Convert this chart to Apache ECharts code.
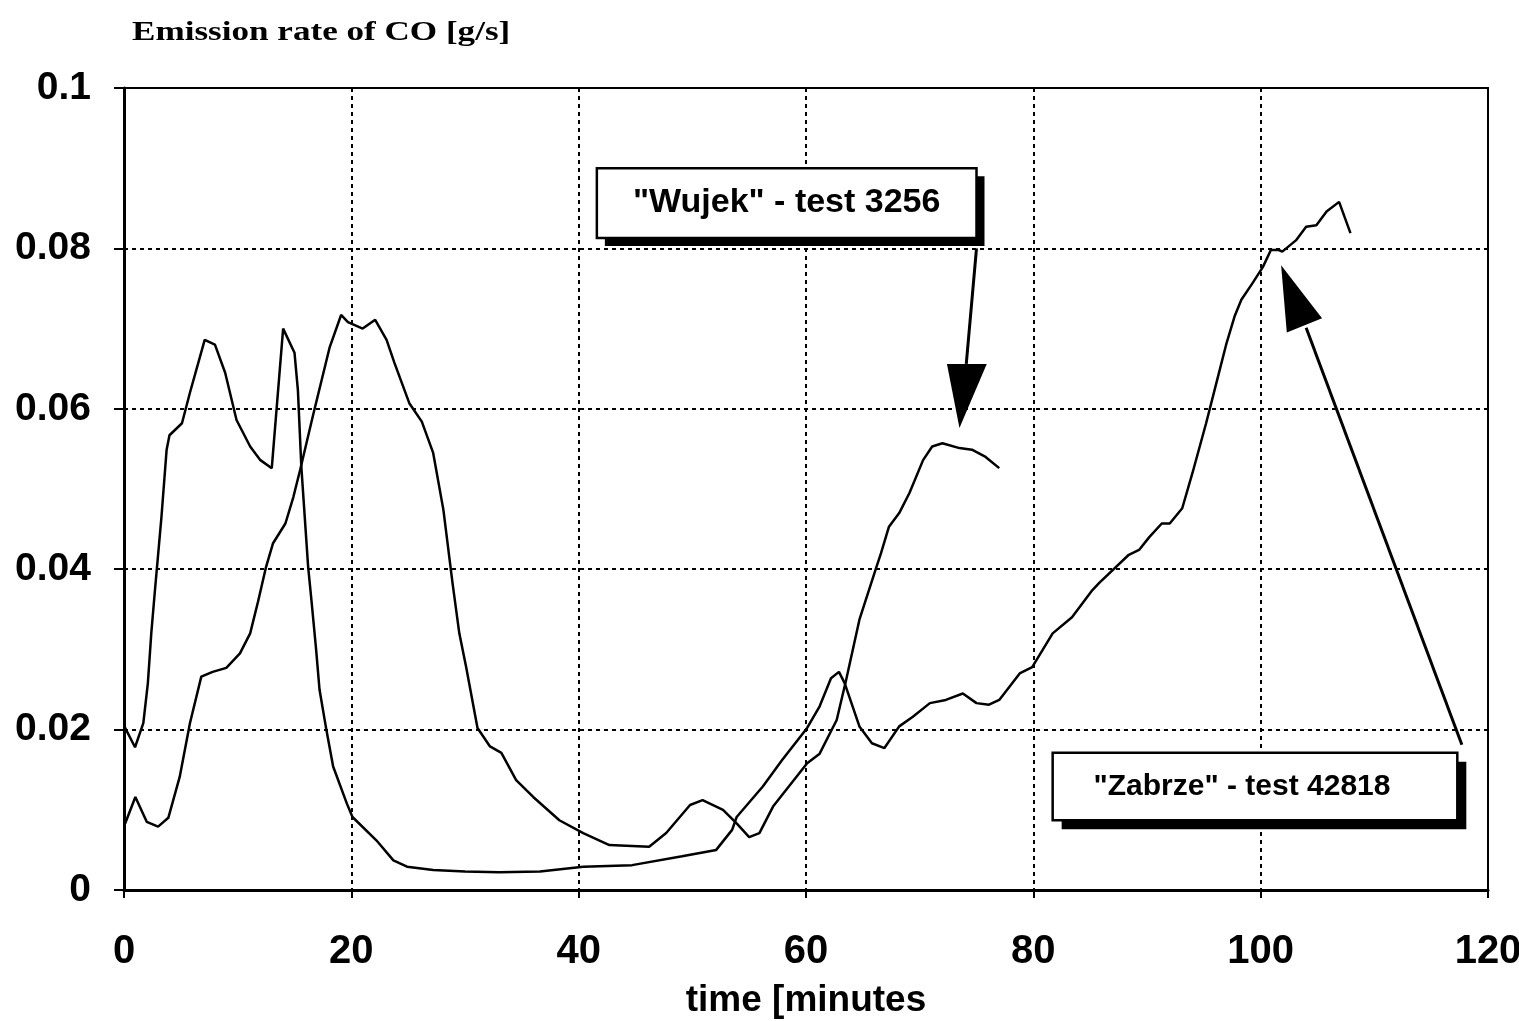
<!DOCTYPE html>
<html>
<head>
<meta charset="utf-8">
<script src="https://cdn.jsdelivr.net/npm/echarts@6/dist/echarts.min.js"></script>
<style>
html,body{margin:0;padding:0;background:#fff;}
#chart{width:1519px;height:1021px;}
</style>
</head>
<body>
<div id="chart"></div>
<script>
// ---- data (time in minutes, CO emission rate in g/s) ----
const zabrzeTime = [0, 0.97, 1.7, 2.1, 2.4, 2.7, 3.3, 3.75, 4.0, 5.1, 5.8, 7.1, 8.0, 8.9, 9.9, 11.1, 12.0, 13.0, 14.0, 15.0, 15.3, 15.6, 16.2, 16.5, 16.9, 17.2, 17.8, 18.4, 19.6, 20.1, 22.2, 23.7, 24.9, 27.2, 30, 33, 36.6, 40.4, 44.7, 49.1, 52.1, 53.5, 53.9, 56.2, 57.9, 60.1, 61.2, 62.2, 62.9, 63.4, 64.7, 65.8, 66.9, 68.2, 69.4, 70.9, 72.3, 73.8, 75.0, 76.1, 77.0, 78.8, 79.9, 81.7, 83.4, 85.2, 85.8, 88.4, 89.3, 90.2, 91.3, 92.0, 93.1, 94.0, 95.2, 96.1, 97.0, 97.7, 98.3, 99.3, 100.2, 100.9, 101.6, 101.9, 103.1, 104.0, 104.9, 105.8, 106.9, 107.9];
const zabrzeRate = [0.0205, 0.0178, 0.0208, 0.0258, 0.032, 0.037, 0.0466, 0.0549, 0.0567, 0.0582, 0.062, 0.0686, 0.068, 0.0645, 0.0586, 0.0553, 0.0536, 0.0526, 0.070, 0.067, 0.0623, 0.0528, 0.0403, 0.036, 0.030, 0.025, 0.020, 0.0154, 0.0108, 0.0091, 0.0062, 0.0037, 0.0029, 0.0025, 0.0023, 0.0022, 0.0023, 0.0029, 0.0031, 0.0042, 0.005, 0.0075, 0.0091, 0.0129, 0.0162, 0.0202, 0.0229, 0.0264, 0.0272, 0.0258, 0.0204, 0.0183, 0.0177, 0.0204, 0.0216, 0.0233, 0.0237, 0.0245, 0.0233, 0.0231, 0.0237, 0.027, 0.0278, 0.032, 0.034, 0.0374, 0.0383, 0.0418, 0.0424, 0.044, 0.0457, 0.0457, 0.0476, 0.052, 0.0582, 0.0632, 0.0682, 0.0715, 0.0736, 0.0757, 0.0777, 0.0798, 0.0798, 0.0796, 0.081, 0.0827, 0.0829, 0.0846, 0.0858, 0.0819];

const wujekTime = [0.1, 1.0, 2.0, 3.0, 3.9, 4.9, 5.8, 6.8, 7.8, 9.0, 10.2, 11.1, 11.8, 12.5, 13.1, 14.2, 14.9, 15.5, 16.6, 18.1, 19.1, 19.7, 21.0, 22.1, 23.1, 23.8, 25.1, 26.2, 27.2, 28.1, 28.9, 29.5, 30.1, 31.1, 32.2, 33.2, 34.5, 36.0, 38.3, 40.4, 42.7, 46.2, 47.7, 49.8, 50.9, 52.7, 53.9, 55.0, 55.9, 57.1, 60.1, 61.2, 62.7, 63.5, 64.7, 66.2, 66.6, 67.3, 68.2, 69.1, 70.3, 71.1, 72.0, 73.5, 74.6, 75.8, 77.0];
const wujekRate = [0.0083, 0.0116, 0.0085, 0.0079, 0.009, 0.0141, 0.0208, 0.0266, 0.0272, 0.0277, 0.0295, 0.032, 0.036, 0.0403, 0.0432, 0.0457, 0.049, 0.0524, 0.059, 0.0677, 0.0717, 0.0708, 0.070, 0.0711, 0.0686, 0.0657, 0.0607, 0.0584, 0.0545, 0.0474, 0.0383, 0.032, 0.0278, 0.0202, 0.0179, 0.0171, 0.0137, 0.0116, 0.0087, 0.0071, 0.0056, 0.0054, 0.0071, 0.0106, 0.0112, 0.010, 0.0083, 0.0066, 0.0071, 0.0104, 0.0158, 0.017, 0.0212, 0.026, 0.0337, 0.0403, 0.042, 0.0453, 0.047, 0.0495, 0.0536, 0.0553, 0.0557, 0.0551, 0.0549, 0.054, 0.0526];

const xTicks = [0, 20, 40, 60, 80, 100, 120];
const yTicks = [0, 0.02, 0.04, 0.06, 0.08, 0.1];

const yTitle = 'Emission rate of CO [g/s]';
const xTitle = 'time [minutes';
const wujekLabel = '"Wujek" - test 3256';
const zabrzeLabel = '"Zabrze" - test 42818';

// annotation anchors in data space [time, rate]
const wujekBox = [[41.6, 0.0900], [75.0, 0.0813]];
const wujekArrow = { from: [75.0, 0.0800], to: [74.1, 0.0656], headL: [72.4, 0.0656], headR: [75.9, 0.0656], tip: [73.5, 0.0576] };
const zabrzeBox = [[81.7, 0.0171], [117.3, 0.0087]];
const zabrzeArrow = { from: [117.7, 0.0181], to: [104.0, 0.0701], headL: [102.3, 0.0695], headR: [105.4, 0.0713], tip: [101.8, 0.0779] };

const zip = (a, b) => a.map((v, i) => [v, b[i]]);

const chart = echarts.init(document.getElementById('chart'), null, { renderer: 'canvas' });

const gridLine = { show: true, lineStyle: { color: '#000', width: 2, type: [4, 4] } };

chart.setOption({
  animation: false,
  backgroundColor: '#fff',
  grid: { left: 124, right: 31, top: 88, bottom: 131, containLabel: false, outerBoundsMode: 'none',
          show: true, borderColor: '#000', borderWidth: 2 },
  xAxis: {
    type: 'value', min: xTicks[0], max: xTicks[xTicks.length - 1], interval: 20,
    axisLine: { lineStyle: { color: '#000', width: 3 } },
    axisTick: { show: true, length: 8, lineStyle: { color: '#000', width: 2 } },
    axisLabel: { color: '#000', fontFamily: 'Liberation Sans', fontWeight: 'bold', fontSize: 40, margin: 42 },
    splitLine: gridLine,
    name: xTitle, nameLocation: 'middle', nameGap: 92,
    nameTextStyle: { color: '#000', fontFamily: 'Liberation Sans', fontWeight: 'bold', fontSize: 37 }
  },
  yAxis: {
    type: 'value', min: yTicks[0], max: yTicks[yTicks.length - 1], interval: 0.02,
    axisLine: { show: true, lineStyle: { color: '#000', width: 3 } },
    axisTick: { show: true, length: 10, lineStyle: { color: '#000', width: 2 } },
    axisLabel: { color: '#000', fontFamily: 'Liberation Sans', fontWeight: 'bold', fontSize: 39, margin: 33 },
    splitLine: gridLine
  },
  series: [
    { name: 'Zabrze', type: 'line', data: zip(zabrzeTime, zabrzeRate), showSymbol: false, symbol: 'none',
      lineStyle: { color: '#000', width: 2.5 }, z: 5 },
    { name: 'Wujek', type: 'line', data: zip(wujekTime, wujekRate), showSymbol: false, symbol: 'none',
      lineStyle: { color: '#000', width: 2.5 }, z: 5 }
  ]
});

function px(p) { return chart.convertToPixel({ gridIndex: 0 }, p); }

function boxGraphics(box, label, fontSize, shadow, textShift) {
  const a = px(box[0]), b = px(box[1]);
  const x = a[0], y = a[1], w = b[0] - a[0], h = b[1] - a[1];
  return [
    { type: 'rect', shape: { x: x + shadow, y: y + shadow, width: w, height: h }, style: { fill: '#000' }, z: 20 },
    { type: 'rect', shape: { x: x, y: y, width: w, height: h }, style: { fill: '#fff', stroke: '#000', lineWidth: 2.5 }, z: 21 },
    { type: 'text', x: x + w / 2 + textShift, y: y + h / 2, style: { text: label, fill: '#000', font: 'bold ' + fontSize + 'px "Liberation Sans"', align: 'center', verticalAlign: 'middle' }, z: 22 }
  ];
}

function arrowGraphics(ar) {
  const f = px(ar.from), t = px(ar.to), l = px(ar.headL), r = px(ar.headR), tip = px(ar.tip);
  return [
    { type: 'line', shape: { x1: f[0], y1: f[1], x2: t[0], y2: t[1] }, style: { stroke: '#000', lineWidth: 3 }, z: 20 },
    { type: 'polygon', shape: { points: [l, r, tip] }, style: { fill: '#000' }, z: 20 }
  ];
}

chart.setOption({
  graphic: [].concat(
    [{ type: 'text', x: 132, y: 20, scaleX: 1.3, style: { text: yTitle, fill: '#000', font: 'bold 27px "Liberation Serif"', align: 'left', verticalAlign: 'top' }, z: 22 }],
    boxGraphics(wujekBox, wujekLabel, 34, 8, 0),
    arrowGraphics(wujekArrow),
    boxGraphics(zabrzeBox, zabrzeLabel, 30, 9, -13),
    arrowGraphics(zabrzeArrow)
  )
});
</script>
</body>
</html>
